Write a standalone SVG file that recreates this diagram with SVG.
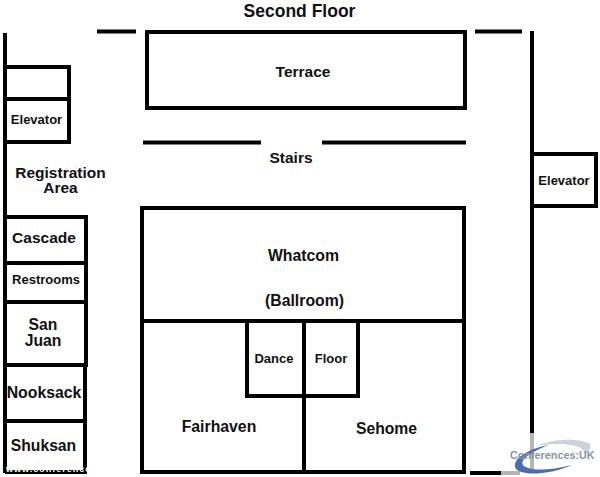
<svg xmlns="http://www.w3.org/2000/svg" width="600" height="477" viewBox="0 0 600 477">
<style>
.w{fill:none;stroke:#000;stroke-width:4}
.t{font-family:"Liberation Sans",Arial,sans-serif;font-weight:bold;fill:#111;text-anchor:middle}
.c{font-size:13px}.d{font-size:15.700px}
</style>
<rect width="600" height="477" fill="#fff"/>
<g id="connectors">
<path class="w" d="M5 33V473M97 31.500H136M475 31.500H522M532 31V447M143 142.500H261M322 142.500H466M470 473H501"/>
<path d="M532 433V473M501 473H520" fill="none" stroke="#b5b5b5" stroke-width="4"/>
</g>
<g id="title"><text class="t" x="299.500" y="17" style="font-size:17.500px">Second Floor</text></g>
<g id="terrace"><rect class="w" x="147" y="32" width="318" height="76"/><text class="t" x="303" y="77" style="font-size:15.500px">Terrace</text></g>
<g id="stairs"><text class="t" x="291" y="163" style="font-size:15.500px">Stairs</text></g>
<g id="blank-room"><path class="w" d="M5 67H69V99H5"/></g>
<g id="elevator-left"><path class="w" d="M5 99H69V142H5"/><text class="t c" x="36.500" y="124">Elevator</text></g>
<g id="registration"><text class="t" style="font-size:15.500px"><tspan x="60.500" y="178">Registration</tspan><tspan x="60.500" y="193">Area</tspan></text></g>
<g id="cascade"><path class="w" d="M5 217H86V263H5"/><text class="t" x="44" y="243" style="font-size:15.500px">Cascade</text></g>
<g id="restrooms"><path class="w" d="M5 263H86V302H5"/><text class="t c" x="46" y="284">Restrooms</text></g>
<g id="san-juan"><path class="w" d="M5 302H86V365H5"/><text class="t d"><tspan x="43" y="330">San</tspan><tspan x="43" y="346">Juan</tspan></text></g>
<g id="nooksack"><path class="w" d="M5 365H85V421H5"/><text class="t" x="44" y="398" style="font-size:15.800px">Nooksack</text></g>
<g id="shuksan"><path class="w" d="M5 421H85V472H5"/><text class="t d" x="43.500" y="451">Shuksan</text></g>
<g id="whatcom"><rect class="w" x="142" y="208" width="322" height="113"/><text class="t" x="303.500" y="261" style="font-size:15.800px">Whatcom</text><text class="t" x="304.500" y="306" style="font-size:15.800px">(Ballroom)</text></g>
<g id="fairhaven"><path class="w" d="M142 321V472H304V396"/><text class="t" x="219" y="432" style="font-size:15.800px">Fairhaven</text></g>
<g id="sehome"><path class="w" d="M304 472H464V321"/><text class="t d" x="386.500" y="434">Sehome</text></g>
<g id="dance"><rect class="w" x="247" y="321" width="57" height="75"/><text class="t c" x="274" y="363">Dance</text></g>
<g id="floor"><rect class="w" x="304" y="321" width="54" height="75"/><text class="t c" x="331" y="363">Floor</text></g>
<g id="elevator-right"><path class="w" d="M532 154H596V206H532"/><text class="t c" x="564" y="185">Elevator</text></g>
<g id="watermark">
<path d="M516 469C511 460 525 450 548 445C530 453 520 459 523 465C526 470 545 472 572 465C550 475 522 476 516 469Z" fill="#4a6fb0"/>
<path d="M536 446C555 438 580 438 590 444C592 448 588 452 584 454C586 446 565 441 536 446Z" fill="#ccd3de"/>
<text x="510" y="459" style="font-family:'Liberation Sans',Arial,sans-serif;font-weight:bold;font-size:10.800px" fill="#8a93a5">Conferences:UK</text>
<text x="6" y="472" style="font-family:'Liberation Sans',Arial,sans-serif;font-weight:bold;font-size:9px;letter-spacing:1px" fill="#fff">www.conferences</text>
</g>
</svg>
